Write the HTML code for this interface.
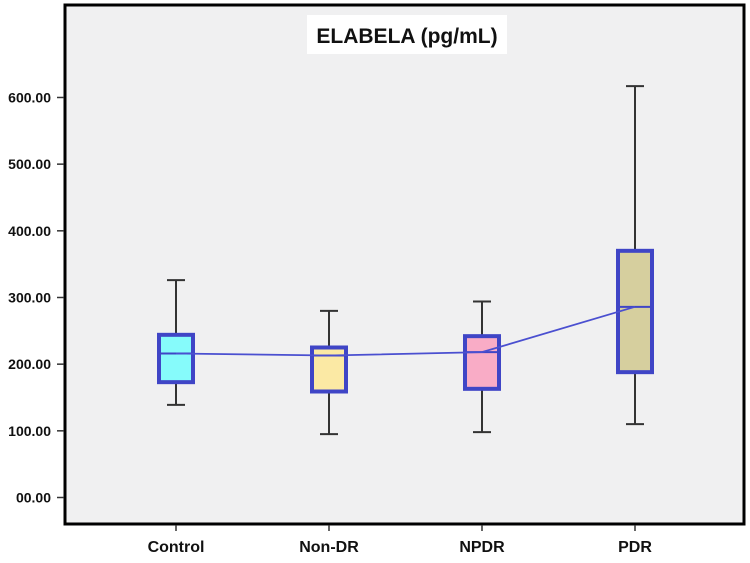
<!DOCTYPE html>
<html><head><meta charset="utf-8"><style>
body{margin:0;background:#fff;}
svg text{font-family:"Liberation Sans",sans-serif;font-weight:bold;fill:#111;}
</style></head><body>
<svg id="chart" width="750" height="558" xmlns="http://www.w3.org/2000/svg">
<rect x="65" y="5" width="679" height="519" fill="#f0f0f1" stroke="#000" stroke-width="3"/>
<rect x="307" y="15" width="200" height="39" fill="#fff"/>
<text x="407" y="43" text-anchor="middle" font-size="21">ELABELA (pg/mL)</text>
<g id="yaxis"></g><g id="xaxis"></g><g id="boxes"></g>
</svg>
<script>
const categories=["Control","Non-DR","NPDR","PDR"];
const whiskerLow=[139,95,98,110];
const q1=[173,159,163,188];
const medians=[216,213,218,286];
const q3=[244,225,242,370];
const whiskerHigh=[326,280,294,617];
const fills=["#86fbfb","#fbe9a4","#f9acc6","#d6cf9e"];
const yTicks=[0,100,200,300,400,500,600];
const yTickLabels=["00.00","100.00","200.00","300.00","400.00","500.00","600.00"];
const NS="http://www.w3.org/2000/svg";
function y(v){return 497.5-v*0.6667;}
function x(i){return 176+i*153;}
function mk(t,a,p){const e=document.createElementNS(NS,t);for(const k in a)e.setAttribute(k,a[k]);p.appendChild(e);return e;}
const ya=document.getElementById('yaxis'),xa=document.getElementById('xaxis'),bx=document.getElementById('boxes');
yTicks.forEach((v,i)=>{
 const t=mk('line',{x1:57,x2:64,y1:y(v),y2:y(v),stroke:'#333','stroke-width':1.5},ya);
 
 
 const l=mk('text',{x:51,y:y(v)+5,'text-anchor':'end','font-size':14},ya);
 l.textContent=yTickLabels[i];
 
 
});
categories.forEach((c,i)=>{
 const t=mk('line',{x1:x(i),x2:x(i),y1:525,y2:531,stroke:'#333','stroke-width':1.5},xa);
 
 
 const l=mk('text',{x:x(i),y:552,'text-anchor':'middle','font-size':16},xa);
 l.textContent=c;
 
 
 const g=mk('g',{},bx);
 
 
 const cx=x(i);
 mk('line',{x1:cx,x2:cx,y1:y(whiskerHigh[i]),y2:y(q3[i]),stroke:'#333','stroke-width':2},g);
 mk('line',{x1:cx,x2:cx,y1:y(q1[i]),y2:y(whiskerLow[i]),stroke:'#333','stroke-width':2},g);
 mk('line',{x1:cx-9,x2:cx+9,y1:y(whiskerHigh[i]),y2:y(whiskerHigh[i]),stroke:'#333','stroke-width':2},g);
 mk('line',{x1:cx-9,x2:cx+9,y1:y(whiskerLow[i]),y2:y(whiskerLow[i]),stroke:'#333','stroke-width':2},g);
 mk('rect',{x:cx-17,y:y(q3[i]),width:34,height:y(q1[i])-y(q3[i]),fill:fills[i],stroke:'#3f45c6','stroke-width':4},g);
 mk('line',{x1:cx-15,x2:cx+15,y1:y(medians[i]),y2:y(medians[i]),stroke:'#3f45c6','stroke-width':2},g);
});
const pts=medians.map((m,i)=>x(i)+','+y(m)).join(' ');
const pl=mk('polyline',{points:pts,fill:'none',stroke:'#4a4fd0','stroke-width':1.8},bx);


</script>
</body></html>
